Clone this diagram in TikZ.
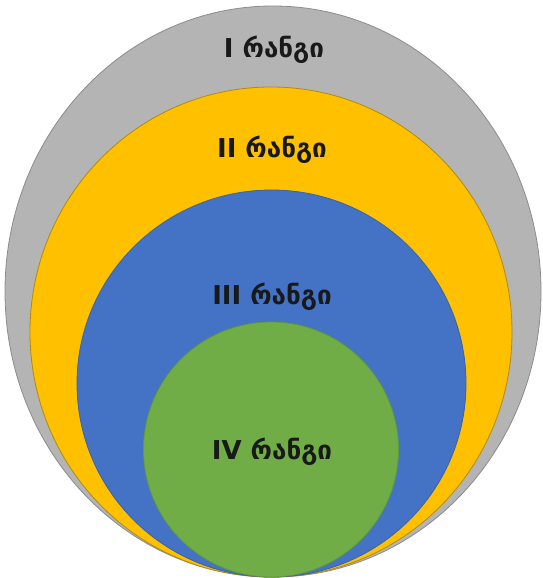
\documentclass[tikz,border=0pt]{standalone}
\usepackage{fontspec}
\newfontfamily\geo{DejaVu Sans}
\definecolor{cgray}{HTML}{B4B4B4}
\definecolor{cgrayline}{HTML}{8C8C8C}
\definecolor{cgold}{HTML}{FFC000}
\definecolor{cgoldline}{HTML}{B08A10}
\definecolor{cblue}{HTML}{4472C4}
\definecolor{cblueline}{HTML}{3A62A8}
\definecolor{cgreen}{HTML}{70AD47}
\definecolor{cgreenline}{HTML}{5F9A3C}
\tikzset{
  ring/.style={line width=0.8pt},
  lbl/.style={font=\geo\bfseries\fontsize{26}{31}\selectfont, text=black!90, inner sep=0pt}
}
\begin{document}
\begin{tikzpicture}[x=1pt,y=-1pt]
\useasboundingbox (0,0) rectangle (543,578);
\path[ring, fill=cgray, draw=cgrayline] (273,291.5) ellipse [x radius=268, y radius=285.5];
\path[ring, fill=cgold, draw=cgoldline] (271,332) ellipse [x radius=241, y radius=245];
\path[ring, fill=cblue, draw=cblueline] (271.5,383.5) ellipse [x radius=194.5, y radius=193.5];
\path[ring, fill=cgreen, draw=cgreenline] (271,449.5) circle [radius=127.5];
\node[lbl] (r1) at (274,50) {I რანგი};
\node[lbl] (r2) at (272,150) {II რანგი};
\node[lbl] (r3) at (272,297) {III რანგი};
\node[lbl] (r4) at (272,452) {IV რანგი};
\end{tikzpicture}
\end{document}
